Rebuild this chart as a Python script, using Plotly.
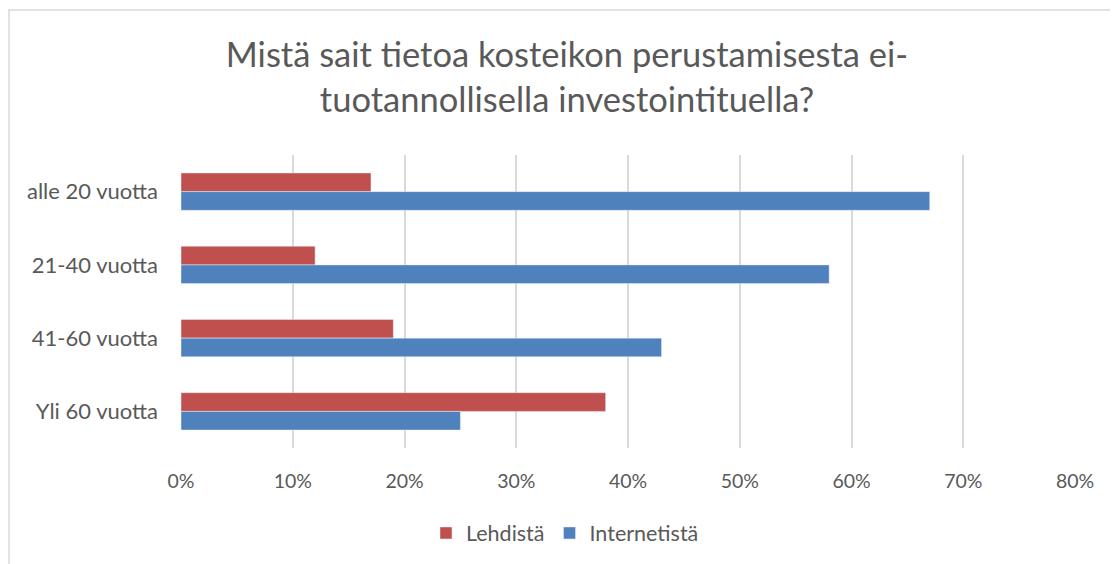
import plotly.graph_objects as go

categories = ["alle 20 vuotta", "21-40 vuotta", "41-60 vuotta", "Yli 60 vuotta"]
lehdista = [0.17, 0.12, 0.19, 0.38]
internetista = [0.67, 0.58, 0.43, 0.25]
x_ticks = [0, 0.1, 0.2, 0.3, 0.4, 0.5, 0.6, 0.7, 0.8]

FONT = "Lato, 'Open Sans', sans-serif"
GREY = "#595959"

# page has an 8px body margin, so the figure is 8px smaller than the window
W, H = 1110, 556

fig = go.Figure()
fig.add_trace(go.Bar(
    y=categories, x=lehdista, orientation="h", name="Lehdistä",
    marker=dict(color="#C0504D"),
))
fig.add_trace(go.Bar(
    y=categories, x=internetista, orientation="h", name="Internetistä",
    marker=dict(color="#4F81BD"),
))

fig.update_layout(
    width=W, height=H,
    paper_bgcolor="white", plot_bgcolor="white",
    font=dict(family=FONT, color=GREY, size=20),
    title=dict(
        text="Mistä sait tietoa kosteikon perustamisesta ei-<br>tuotannollisella investointituella?",
        font=dict(size=34.5, color=GREY, family=FONT),
        x=559 / W, xanchor="center", xref="container",
        y=1 - 59 / H, yanchor="top", yref="container",
    ),
    barmode="group", bargap=0.49, bargroupgap=0,
    margin=dict(l=173, r=43, t=147, b=116),
    xaxis=dict(
        range=[0, 0.8], tickvals=x_ticks, tickformat=".0%",
        showgrid=True, gridcolor="#D9D9D9", gridwidth=2,
        zeroline=False, showline=False, ticks="", ticklen=0,
        ticklabelstandoff=19,
        tickfont=dict(size=19.5, color=GREY),
    ),
    yaxis=dict(
        autorange="reversed", showgrid=False, zeroline=False,
        ticks="", ticklabelstandoff=22,
        tickfont=dict(size=22, color=GREY),
    ),
    legend=dict(
        orientation="h", x=557 / W, xanchor="center", xref="container",
        y=1 - 525 / H, yanchor="middle", yref="container",
        font=dict(size=21.5, color=GREY), itemwidth=30,
    ),
    shapes=[dict(
        type="rect", xref="paper", yref="paper",
        x0=-172 / 894, x1=1 + 60 / 894, y0=-140 / 293, y1=1 + 145 / 293,
        line=dict(color="#D9D9D9", width=1.5), fillcolor="rgba(0,0,0,0)",
        layer="below",
    )],
)

fig.write_html("out.html")
